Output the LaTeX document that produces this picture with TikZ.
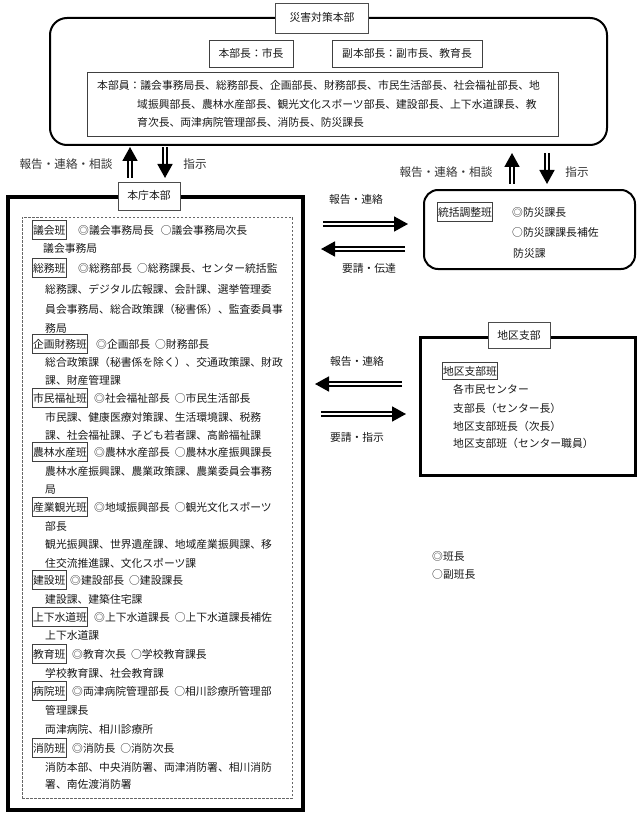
\documentclass[tikz,border=0pt]{standalone}
\usepackage{fontspec}
\setmainfont{Noto Sans CJK JP}
\usetikzlibrary{arrows.meta,calc}
\begin{document}
\begin{tikzpicture}[x=1pt,y=-1pt,
  every node/.style={font=\fontsize{10.8}{13}\selectfont, text=black!90, inner sep=0pt, text height=9.2pt, text depth=1.2pt},
  txt/.style={anchor=west},
  alab/.style={font=\fontsize{11.6}{14}\selectfont, text=black!80},
  lab/.style={draw=black!75, line width=0.8pt, anchor=west, inner xsep=0.6pt, inner ysep=4.2pt},
  ttl/.style={draw=black!70, line width=0.9pt, fill=white, minimum height=28pt},
  ibox/.style={draw=black!75, line width=0.9pt},
  dbl/.style={double=white, double distance=2pt, line width=1.7pt, -{Triangle[length=14pt,width=15pt]}},
]
\useasboundingbox (0,0) rectangle (642,813);

% ---------- headquarters ----------
\node[draw=black, line width=2pt, rounded corners=17pt, minimum width=557pt, minimum height=127pt] (hqframe) at (328.5,81.5) {};
\node[ttl, minimum width=93pt, minimum height=30pt] (hqtitle) at (322,18) {災害対策本部};
\node[ibox, minimum width=84pt, minimum height=27pt] (chief) at (251,53.5) {本部長：市長};
\node[ibox, minimum width=150pt, minimum height=27pt] (vice) at (407,53.5) {副本部長：副市長、教育長};
\node[ibox, minimum width=471pt, minimum height=64pt] (members) at (322.5,104) {};
\node[txt] (m1) at (97,86) {本部員：議会事務局長、総務部長、企画部長、財務部長、市民生活部長、社会福祉部長、地};
\node[txt] (m2) at (137,104.5) {域振興部長、農林水産部長、観光文化スポーツ部長、建設部長、上下水道課長、教};
\node[txt] (m3) at (137,123) {育次長、両津病院管理部長、消防長、防災課長};

% ---------- city hall HQ ----------
\node[draw=black, line width=3.5pt, minimum width=295pt, minimum height=613pt] (cityframe) at (155.5,503.5) {};
\node[draw=black!60, line width=0.9pt, dash pattern=on 2.5pt off 1.5pt, minimum width=270pt, minimum height=581pt] (cityinner) at (157,507.5) {};
\node[ttl, minimum width=62pt] (citytitle) at (149,196) {本庁本部};

\node[lab] (g1) at (32,230) {議会班};
\node[txt] (t1) at (78,230) {◎議会事務局長\hspace{7pt}○議会事務局次長};
\node[txt] (t2) at (43,248) {議会事務局};
\node[lab] (g2) at (32,268) {総務班};
\node[txt] (t3) at (78,268) {◎総務部長\hspace{5pt}○総務課長、センター統括監};
\node[txt] (t4) at (45,289) {総務課、デジタル広報課、会計課、選挙管理委};
\node[txt] (t5) at (45,309) {員会事務局、総合政策課（秘書係）、監査委員事};
\node[txt] (t6) at (45,328) {務局};
\node[lab] (g3) at (32,344) {企画財務班};
\node[txt] (t7) at (96,344) {◎企画部長\hspace{5pt}○財務部長};
\node[txt] (t8) at (45,362) {総合政策課（秘書係を除く）、交通政策課、財政};
\node[txt] (t9) at (45,380) {課、財産管理課};
\node[lab] (g4) at (32,398) {市民福祉班};
\node[txt] (t10) at (94,398) {◎社会福祉部長\hspace{5pt}○市民生活部長};
\node[txt] (t11) at (45,417) {市民課、健康医療対策課、生活環境課、税務};
\node[txt] (t12) at (45,435) {課、社会福祉課、子ども若者課、高齢福祉課};
\node[lab] (g5) at (32,452) {農林水産班};
\node[txt] (t13) at (94,452) {◎農林水産部長\hspace{5pt}○農林水産振興課長};
\node[txt] (t14) at (45,471) {農林水産振興課、農業政策課、農業委員会事務};
\node[txt] (t15) at (45,489) {局};
\node[lab] (g6) at (32,507) {産業観光班};
\node[txt] (t16) at (94,507) {◎地域振興部長\hspace{5pt}○観光文化スポーツ};
\node[txt] (t17) at (45,526) {部長};
\node[txt] (t18) at (45,544) {観光振興課、世界遺産課、地域産業振興課、移};
\node[txt] (t19) at (45,563) {住交流推進課、文化スポーツ課};
\node[lab] (g7) at (32,580) {建設班};
\node[txt] (t20) at (70,580) {◎建設部長\hspace{5pt}○建設課長};
\node[txt] (t21) at (45,599) {建設課、建築住宅課};
\node[lab] (g8) at (32,617) {上下水道班};
\node[txt] (t22) at (94,617) {◎上下水道課長\hspace{5pt}○上下水道課長補佐};
\node[txt] (t23) at (45,635) {上下水道課};
\node[lab] (g9) at (32,654) {教育班};
\node[txt] (t24) at (72,654) {◎教育次長\hspace{5pt}○学校教育課長};
\node[txt] (t25) at (45,673) {学校教育課、社会教育課};
\node[lab] (g10) at (32,691) {病院班};
\node[txt] (t26) at (72,691) {◎両津病院管理部長\hspace{5pt}○相川診療所管理部};
\node[txt] (t27) at (45,710) {管理課長};
\node[txt] (t28) at (45,729) {両津病院、相川診療所};
\node[lab] (g11) at (32,748) {消防班};
\node[txt] (t29) at (72,748) {◎消防長\hspace{5pt}○消防次長};
\node[txt] (t30) at (45,767) {消防本部、中央消防署、両津消防署、相川消防};
\node[txt] (t31) at (45,784) {署、南佐渡消防署};

% ---------- coordination team ----------
\node[draw=black, line width=2pt, rounded corners=14pt, minimum width=211pt, minimum height=79pt] (coord) at (529.5,229.5) {};
\node[lab] (cl) at (437,212) {統括調整班};
\node[txt] (c1) at (512,212) {◎防災課長};
\node[txt] (c2) at (512,232) {○防災課課長補佐};
\node[txt] (c3) at (513,253) {防災課};

% ---------- district branch ----------
\node[draw=black, line width=3pt, minimum width=215pt, minimum height=138pt] (dist) at (527.5,406) {};
\node[ttl, minimum width=62pt, minimum height=26pt] (disttitle) at (519,335) {地区支部};
\node[lab, inner ysep=3pt] (dl) at (442,371) {地区支部班};
\node[txt] (d1) at (453,389) {各市民センター};
\node[txt] (d2) at (453,408) {支部長（センター長）};
\node[txt] (d3) at (453,426) {地区支部班長（次長）};
\node[txt] (d4) at (453,443) {地区支部班（センター職員）};

% ---------- legend ----------
\node[txt] (lg1) at (432,556) {◎班長};
\node[txt] (lg2) at (432,574) {○副班長};

% ---------- arrow end points ----------
\coordinate (a1s) at (130,178); \coordinate (a1e) at (130,147);
\coordinate (a2s) at (165,147); \coordinate (a2e) at (165,178);
\coordinate (a3s) at (512,184); \coordinate (a3e) at (512,153);
\coordinate (a4s) at (547,153); \coordinate (a4e) at (547,184);
\coordinate (a5s) at (323,224); \coordinate (a5e) at (408,224);
\coordinate (a6s) at (405,249); \coordinate (a6e) at (321,249);
\coordinate (a7s) at (402,384); \coordinate (a7e) at (315,384);
\coordinate (a8s) at (321,414); \coordinate (a8e) at (406,414);

\draw[dbl] (a1s) -- (a1e);
\draw[dbl] (a2s) -- (a2e);
\draw[dbl] (a3s) -- (a3e);
\draw[dbl] (a4s) -- (a4e);
\draw[dbl] (a5s) -- (a5e);
\draw[dbl] (a6s) -- (a6e);
\draw[dbl] (a7s) -- (a7e);
\draw[dbl] (a8s) -- (a8e);

% ---------- arrow labels ----------
\node[alab] (l1) at (66,164) {報告・連絡・相談};
\node[alab] (l2) at (195,164) {指示};
\node[alab] (l3) at (446,172) {報告・連絡・相談};
\node[alab] (l4) at (577,172) {指示};
\node (l5) at (356,199) {報告・連絡};
\node (l6) at (369,268) {要請・伝達};
\node (l7) at (357,361) {報告・連絡};
\node (l8) at (357,437) {要請・指示};
\end{tikzpicture}
\end{document}
